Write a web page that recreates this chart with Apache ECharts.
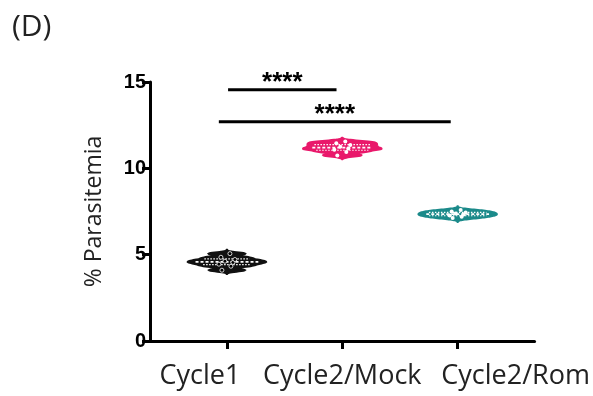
<!DOCTYPE html>
<html>
<head>
<meta charset="utf-8">
<script src="https://cdn.jsdelivr.net/npm/echarts@6/dist/echarts.min.js"></script>
<style>
  html, body { margin: 0; padding: 0; background: #fff; }
  #chart { width: 593px; height: 396px; }
</style>
</head>
<body>
<div id="chart"></div>
<script>
// groups, in axis order (x = 1, 2, 3)
const categories = ['Cycle1', 'Cycle2/Mock', 'Cycle2/Rom'];
const groupColors = ['#111111', '#e9196b', '#1b8a8a'];

// % parasitemia per replicate
const cycle1 = [4.1, 4.33, 4.45, 4.55, 4.62, 4.72, 4.85, 5.06];
const mock = [10.75, 10.95, 11.08, 11.15, 11.25, 11.35, 11.45, 11.55];
const rom = [7.12, 7.2, 7.27, 7.32, 7.38, 7.44, 7.5, 7.58];
const groups = [cycle1, mock, rom];

const yTicks = [0, 5, 10, 15];

// significance brackets: [fromX, toX, y]
const sigBars = [[1.01, 1.95, 14.55], [0.93, 2.94, 12.7]];
const sigLabels = ['****', '****'];

const chart = echarts.init(document.getElementById('chart'));

function density(vals, h, y) {
  let s = 0;
  for (const v of vals) {
    const u = (y - v) / h;
    s += Math.exp(-0.5 * u * u);
  }
  return s;
}

function quantile(sorted, q) {
  const pos = (sorted.length - 1) * q;
  const lo = Math.floor(pos);
  const hi = Math.ceil(pos);
  return sorted[lo] + (sorted[hi] - sorted[lo]) * (pos - lo);
}

const HALF_WIDTH = 0.34;
const BANDWIDTH = 0.075;
// small horizontal spread of the replicate dots, in px
const dotShift = [-5, 4, -8, 6, -2, 8, -6, 3];

function renderViolin(params, api) {
  const idx = params.dataIndex;
  const vals = groups[idx].slice().sort((a, b) => a - b);
  const color = groupColors[idx];
  const x = idx + 1;
  const h = BANDWIDTH;
  const lo = vals[0] - 3 * h;
  const hi = vals[vals.length - 1] + 3 * h;
  const steps = 80;
  const ys = [];
  const ds = [];
  for (let i = 0; i <= steps; i++) {
    const y = lo + (hi - lo) * i / steps;
    ys.push(y);
    ds.push(density(vals, h, y));
  }
  const dmax = Math.max(...ds);
  const left = [];
  const right = [];
  ys.forEach((y, i) => {
    const w = HALF_WIDTH * ds[i] / dmax;
    left.push(api.coord([x - w, y]));
    right.push(api.coord([x + w, y]));
  });
  const points = left.concat(right.reverse());
  const children = [{
    type: 'polygon',
    shape: { points: points },
    style: { fill: color, stroke: color, lineWidth: 2, lineJoin: 'miter' }
  }];
  // median and quartiles
  [0.25, 0.5, 0.75].forEach((q) => {
    const y = quantile(vals, q);
    const w = HALF_WIDTH * density(vals, h, y) / dmax * 0.8;
    const p1 = api.coord([x - w, y]);
    const p2 = api.coord([x + w, y]);
    children.push({
      type: 'line',
      shape: { x1: p1[0], y1: p1[1], x2: p2[0], y2: p2[1] },
      style: { stroke: '#fff', lineWidth: q === 0.5 ? 1.6 : 1.2, lineDash: q === 0.5 ? [3, 2] : [1.5, 1.5] }
    });
  });
  // replicate dots
  vals.forEach((v, i) => {
    const p = api.coord([x, v]);
    children.push({
      type: 'circle',
      shape: { cx: p[0] + dotShift[i % dotShift.length], cy: p[1], r: 2 },
      style: idx === 0 ? { fill: '#000', stroke: '#fff', lineWidth: 0.8 } : { fill: '#fff' }
    });
  });
  return { type: 'group', children: children };
}

function renderBracket(params, api) {
  const b = sigBars[params.dataIndex];
  const p1 = api.coord([b[0], b[2]]);
  const p2 = api.coord([b[1], b[2]]);
  return {
    type: 'group',
    children: [
      {
        type: 'line',
        shape: { x1: p1[0], y1: p1[1], x2: p2[0], y2: p2[1] },
        style: { stroke: '#000', lineWidth: 3 }
      },
      {
        type: 'text',
        x: (p1[0] + p2[0]) / 2,
        y: p1[1] - 7,
        style: {
          text: sigLabels[params.dataIndex],
          fill: '#000',
          font: 'bold 26px "Liberation Sans", Arial',
          align: 'center',
          verticalAlign: 'middle'
        }
      }
    ]
  };
}

const labelFont = { fontSize: 27, fontFamily: 'Open Sans', color: '#222' };

const option = {
  animation: false,
  title: {
    text: '(D)',
    left: 7,
    top: 7,
    textStyle: { fontSize: 30, fontWeight: 'normal', fontFamily: 'Open Sans', color: '#222' }
  },
  grid: { left: 150, right: 58, top: 82, bottom: 55 },
  xAxis: {
    type: 'value',
    min: 1 / 3,
    max: 11 / 3,
    splitLine: { show: false },
    axisLine: { show: true, onZero: false, lineStyle: { color: '#000', width: 3 } },
    axisTick: { show: true, customValues: [1, 2, 3], length: 8, lineStyle: { color: '#000', width: 3 } },
    axisLabel: {
      customValues: [1, 2, 3],
      margin: 22,
      formatter: (v) => {
        const i = Math.round(v) - 1;
        return '{g' + i + '|' + categories[i] + '}';
      },
      rich: {
        g0: Object.assign({ padding: [0, 54, 0, 0] }, labelFont),
        g1: Object.assign({}, labelFont),
        g2: Object.assign({ padding: [0, 0, 0, 116] }, labelFont)
      }
    }
  },
  yAxis: {
    type: 'value',
    min: yTicks[0],
    max: yTicks[yTicks.length - 1],
    interval: 5,
    name: '% Parasitemia',
    nameLocation: 'middle',
    nameGap: 44,
    nameTextStyle: { fontSize: 23, fontFamily: 'Open Sans', color: '#222' },
    splitLine: { show: false },
    axisLine: { show: true, lineStyle: { color: '#000', width: 3 } },
    axisTick: { show: true, length: 8, lineStyle: { color: '#000', width: 3 } },
    axisLabel: { margin: 4, fontSize: 20, fontWeight: 'bold', fontFamily: 'Liberation Sans', color: '#000' }
  },
  series: [
    {
      type: 'custom',
      name: 'violins',
      renderItem: renderViolin,
      data: categories.map((c, i) => [i + 1, groups[i][0]]),
      z: 3
    },
    {
      type: 'custom',
      name: 'brackets',
      renderItem: renderBracket,
      data: sigBars.map((b) => [b[0], b[2]]),
      clip: false,
      z: 4
    }
  ]
};

chart.setOption(option);
</script>
</body>
</html>
